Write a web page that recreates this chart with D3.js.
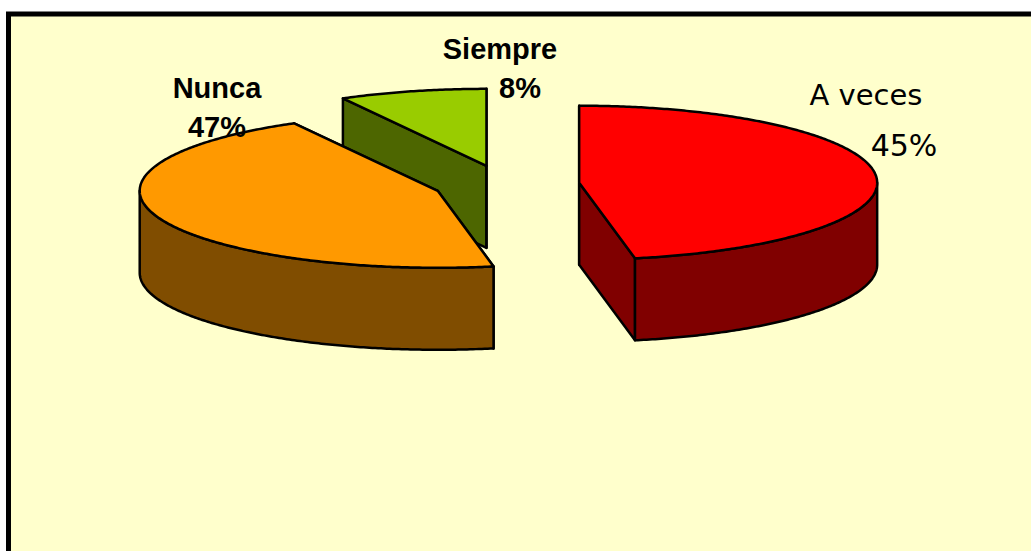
<!DOCTYPE html>
<meta charset="utf-8">
<style>
  html, body { margin: 0; background: #fff; overflow: hidden; }
  svg { display: block; }
</style>
<svg width="1031" height="551"></svg>
<script src="https://d3js.org/d3.v7.min.js"></script>
<script>

// slice sizes as measured on the drawing, clockwise from 12 o'clock
const sliceNames = ["A veces", "Nunca", "Siempre"]
const sliceShares = [47, 45, 8]
// printed percentages: the reference prints 45 on the 47 slice and the other way round
const printedPct = ["45%", "47%", "8%"]
const topColors = ["#ff0000", "#ff9900", "#99cc00"]
const sideColors = ["#800000", "#804d00", "#4d6600"]

const width = 1031
const height = 551
const cx = 505, cy = 184.5
const rx = 298, ry = 77
const depth = 82
const explode = [0.25, 0.24, 0.25]

const svg = d3.select("svg")

// frame
svg.append("rect")
    .attr("x", 8.5).attr("y", 14)
    .attr("width", width + 40).attr("height", height + 40)
    .attr("fill", "#ffffcc")
    .attr("stroke", "#000")
    .attr("stroke-width", 5)

const pie = d3.pie().sort(null).value(d => d.share)
const slices = pie(sliceNames.map((name, i) => ({name, share: sliceShares[i], i})))

const xs = d3.scaleLinear().domain([-1, 1]).range([cx - rx, cx + rx])
const ys = d3.scaleLinear().domain([-1, 1]).range([cy - ry, cy + ry])
const line = d3.line().curve(d3.curveLinearClosed)

function rim(a0, a1, off, drop) {
  const n = Math.max(2, Math.ceil((a1 - a0) / 0.01))
  return d3.range(n + 1).map(k => {
    const a = a0 + (a1 - a0) * k / n
    return [xs(Math.sin(a) + off[0]), ys(-Math.cos(a) + off[1]) + drop]
  })
}

// back to front: green, orange, red
const order = [2, 1, 0]

const pieces = svg.append("g")
    .attr("stroke", "#000")
    .attr("stroke-width", 2.5)
    .attr("stroke-linejoin", "round")
  .selectAll("g")
  .data(order.map(i => slices[i]))
  .join("g")

pieces.each(function(d) {
  const g = d3.select(this)
  const mid = (d.startAngle + d.endAngle) / 2
  const e = explode[d.data.i]
  const off = [Math.sin(mid) * e, -Math.cos(mid) * e]
  const apex = [xs(off[0]), ys(off[1])]

  // cut faces
  ;[d.startAngle, d.endAngle].forEach(a => {
    const p = rim(a, a, off, 0)[0]
    g.append("path")
        .attr("fill", sideColors[d.data.i])
        .attr("d", line([apex, p, [p[0], p[1] + depth], [apex[0], apex[1] + depth]]))
  })

  // outer wall, front half only
  const a0 = Math.max(d.startAngle, Math.PI / 2)
  const a1 = Math.min(d.endAngle, Math.PI * 1.5)
  if (a1 > a0) {
    g.append("path")
        .attr("fill", sideColors[d.data.i])
        .attr("d", line(rim(a0, a1, off, 0).concat(rim(a0, a1, off, depth).reverse())))
  }

  // top
  g.append("path")
      .attr("fill", topColors[d.data.i])
      .attr("d", line([apex].concat(rim(d.startAngle, d.endAngle, off, 0))))
})

// labels, two lines each
const labelSpots = [
  {x: 866, y1: 105, y2: 156, size1: 29, size2: 30, font: "'Comic Sans MS', 'DejaVu Sans', sans-serif", weight: "normal", dx2: 38},
  {x: 217, y1: 98, y2: 137, size1: 29, size2: 29, font: "'Liberation Sans', Arial, sans-serif", weight: "bold", dx2: 0},
  {x: 500, y1: 59, y2: 98, size1: 29, size2: 29, font: "'Liberation Sans', Arial, sans-serif", weight: "bold", dx2: 20}
]

const labels = svg.append("g")
    .attr("text-anchor", "middle")
    .attr("fill", "#000")
  .selectAll("g")
  .data(labelSpots)
  .join("g")
    .attr("font-family", d => d.font)
    .attr("font-weight", d => d.weight)

labels.append("text")
    .attr("x", d => d.x)
    .attr("y", d => d.y1)
    .attr("font-size", d => d.size1)
    .text((d, i) => sliceNames[i])

labels.append("text")
    .attr("x", d => d.x + d.dx2)
    .attr("y", d => d.y2)
    .attr("font-size", d => d.size2)
    .text((d, i) => printedPct[i])

</script>
